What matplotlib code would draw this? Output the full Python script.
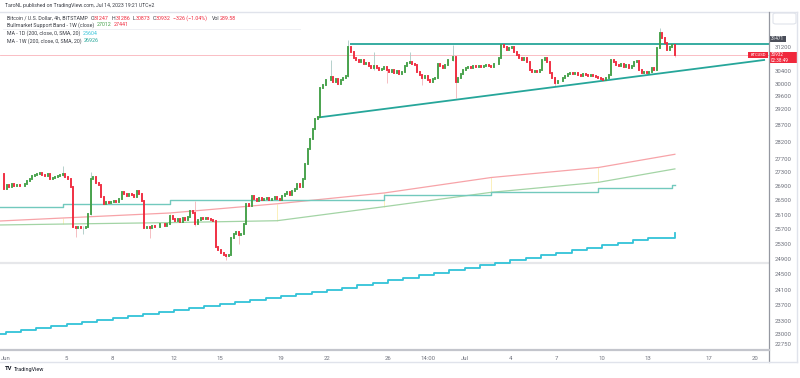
import numpy as np
import pandas as pd
import matplotlib
matplotlib.use('Agg')
import matplotlib.pyplot as plt
import matplotlib.dates as mdates
from matplotlib.lines import Line2D
from matplotlib.patches import Rectangle, FancyBboxPatch

plt.rcParams['font.family'] = ['Roboto', 'DejaVu Sans']

# ---------------- data ----------------
# BTCUSD 4h candles (local time UTC+2), first bar May 31 22:00
candle_start = '2023-05-31 22:00'
first_open = 27250
closes = [
    26820,
    26940, 26880, 26970, 26910, 26940, 26910,   # Jun 1
    26910, 26970, 27050, 27110, 27190, 27220,   # Jun 2
    27250, 27280, 27220, 27190, 27250, 27110,   # Jun 3
    27140, 27170, 27190, 27220, 27250, 27170,   # Jun 4
    27110, 26880, 25770, 25740, 25770, 25740,   # Jun 5
    25740, 25770, 26130, 27110, 27170, 26990,   # Jun 6
    26940, 26600, 26400, 26460, 26430, 26460,   # Jun 7
    26490, 26460, 26540, 26740, 26680, 26630,   # Jun 8
    26680, 26660, 26600, 26770, 26680, 26490,   # Jun 9
    25740, 25770, 25740, 25800, 25770, 25770,   # Jun 10
    25830, 25850, 25800, 25850, 26070, 25990,   # Jun 11
    25930, 25990, 25910, 26020, 25960, 26040,   # Jun 12
    26210, 26150, 25830, 25960, 26020, 25990,   # Jun 13
    26020, 25990, 25960, 25930, 25230, 25130,   # Jun 14
    25050, 25000, 24970, 25000, 25450, 25560,   # Jun 15
    25610, 25530, 25580, 25830, 26400, 26350,   # Jun 16
    26630, 26540, 26490, 26570, 26520, 26540,   # Jun 17
    26570, 26520, 26540, 26600, 26540, 26520,   # Jun 18
    26630, 26680, 26740, 26660, 26770, 26820,   # Jun 19
    26970, 26880, 27110, 27540, 27980, 28280,   # Jun 20
    28580, 28880, 28940, 29870, 29960, 30120,   # Jun 21
    30120, 30220, 30060, 30150, 29990, 30120,   # Jun 22
    30180, 30250, 31190, 31030, 30830, 30760,   # Jun 23
    30700, 30760, 30630, 30670, 30570, 30500,   # Jun 24
    30570, 30500, 30440, 30470, 30540, 30440,   # Jun 25
    30380, 30440, 30340, 30410, 30310, 30380,   # Jun 26
    30570, 30670, 30700, 30630, 30600, 30380,   # Jun 27
    30280, 30180, 30250, 30120, 30060, 30150,   # Jun 28
    30180, 30630, 30570, 30500, 30600, 30760,   # Jun 29
    30760, 30860, 30060, 30180, 30310, 30440,   # Jun 30
    30500, 30540, 30500, 30570, 30540, 30570,   # Jul 1
    30540, 30570, 30600, 30570, 30540, 30630,   # Jul 2
    30630, 30830, 31260, 31190, 31090, 31160,   # Jul 3
    31190, 31030, 30930, 30830, 30760, 30830,   # Jul 4
    30700, 30440, 30380, 30410, 30380, 30440,   # Jul 5
    30760, 30830, 30700, 30340, 30180, 30030,   # Jul 6
    30090, 30090, 30180, 30250, 30310, 30340,   # Jul 7
    30310, 30340, 30280, 30250, 30310, 30280,   # Jul 8
    30250, 30280, 30250, 30220, 30180, 30150,   # Jul 9
    30120, 30180, 30280, 30760, 30700, 30600,   # Jul 10
    30570, 30630, 30540, 30600, 30500, 30570,   # Jul 11
    30700, 30730, 30440, 30340, 30380, 30340,   # Jul 12
    30380, 30500, 30440, 31160, 31650, 31500,   # Jul 13
    31320, 31090, 31190, 31247, 30932,          # Jul 14
]

# visible wicks (the rest of the wicks are hidden in the bodies)
wick_times = ['2023-06-04 18:00', '2023-06-05 14:00', '2023-06-06 02:00', '2023-06-06 14:00',
              '2023-06-10 10:00', '2023-06-13 10:00', '2023-06-15 10:00', '2023-06-16 06:00',
              '2023-06-22 06:00', '2023-06-23 10:00', '2023-06-25 02:00', '2023-06-25 22:00',
              '2023-06-27 10:00', '2023-06-28 06:00', '2023-06-30 06:00', '2023-06-30 10:00',
              '2023-07-06 22:00', '2023-07-13 18:00', '2023-07-14 18:00']
wick_highs = [27480, 25800, 25780, 27310, 25800, 26490, 25020, 25600, 30770, 31420,
              31030, 30460, 31030, 30300, 31260, 30870, 30200, 31810, 31286]
wick_lows = [27200, 25500, 25560, 26100, 25450, 25800, 24860, 25300, 30100, 30200,
             30450, 30030, 30650, 29960, 30740, 29550, 29930, 31150, 30873]

# Bullmarket Support Band - 1W: SMA 20 (red) and EMA 21 (green), weekly vertices
band_times = ['2023-05-31 15:00', '2023-06-04 18:00', '2023-06-11 18:00', '2023-06-18 18:00',
              '2023-06-25 18:00', '2023-07-02 18:00', '2023-07-09 18:00', '2023-07-14 18:00']
sma20w_vals = [25924, 26007, 26146, 26403, 26708, 27151, 27441, 27829]
ema21w_vals = [25815, 25840, 25880, 25932, 26322, 26727, 27012, 27400]

# MA - 1W (200) weekly values
ma1w_times = ['2023-05-31 15:00', '2023-06-04 18:00', '2023-06-11 18:00', '2023-06-18 18:00',
              '2023-06-25 18:00', '2023-07-02 18:00', '2023-07-09 18:00', '2023-07-14 14:00',
              '2023-07-14 18:00']
ma1w_vals = [26310, 26400, 26500, 26520, 26650, 26727, 26841, 26926, 26926]

# MA - 1D (200) daily values, May 31 .. Jul 14
ma1d_start = '2023-05-31'
ma1d_vals = [23000, 23040, 23090, 23140, 23190, 23240, 23290, 23340, 23390, 23440,
             23490, 23540, 23580, 23640, 23690, 23740, 23790, 23840, 23890, 23940,
             23990, 24040, 24090, 24140, 24220, 24270, 24350, 24400, 24480, 24530,
             24610, 24660, 24740, 24790, 24870, 24930, 25010, 25060, 25140, 25190,
             25270, 25330, 25410, 25460, 25604]

# drawings
trend_times = ['2023-06-21 10:00', '2023-07-20 14:00']
trend_prices = [28938, 30763]
resist_start = '2023-06-23 12:00'
resist_price = 31290
last_price = 30932
resist_label = 31471

ytick_vals = [31200, 30400, 30000, 29600, 29200, 28700, 28200, 27700, 27300, 26900, 26500,
              26100, 25700, 25300, 24900, 24500, 24100, 23700, 23300, 23000, 22750]
xtick_times = ['2023-06-01', '2023-06-05', '2023-06-08', '2023-06-12', '2023-06-15',
               '2023-06-19', '2023-06-22', '2023-06-26', '2023-06-28 14:00', '2023-07-01',
               '2023-07-04', '2023-07-07', '2023-07-10', '2023-07-13', '2023-07-17', '2023-07-20']
xtick_labels = ['Jun', '5', '8', '12', '15', '19', '22', '26', '14:00', 'Jul',
                '4', '7', '10', '13', '17', '20']

# ---------------- styling ----------------
GREEN = '#43a047'
RED = '#f0283c'
TEAL = '#26a69a'
CYAN = '#33c3d8'
AXIS_TXT = '#70737e'
DARK = '#3a3d45'
W, H = 800, 378


def fx(px):
    return px / W


def fy(py):
    return 1 - py / H


def to_num(ts):
    return np.array([mdates.date2num(pd.Timestamp(t)) for t in ts])


fig = plt.figure(figsize=(W / 100, H / 100), dpi=100)
fig.patch.set_facecolor('white')
ax = fig.add_axes([0, fy(350), fx(769), (350 - 12) / H])
ax.set_facecolor('white')
ax.set_yscale('log')
ax.set_ylim(22603, 32372)
t0 = mdates.date2num(pd.Timestamp('2023-06-01'))
ax.set_xlim(t0 - 5.5 / 15.3, t0 + 763.5 / 15.3)
for s in ax.spines.values():
    s.set_visible(False)

# pane separator (under the series)
sep_price = ax.transData.inverted().transform((0, H - 263))[1]
ax.axhline(sep_price, color='#e6e7ea', lw=1.6, zorder=0.5)

# indicator lines
bt = to_num(band_times)
ax.plot(bt, sma20w_vals, color='#f7a3a8', lw=0.9, zorder=2)
ax.plot(bt, ema21w_vals, color='#a3d4a5', lw=0.9, zorder=2)
ax.vlines(bt[1:-1], ema21w_vals[1:-1], sma20w_vals[1:-1], color='#fbeeb0', lw=0.6, zorder=1)
ax.plot(to_num(ma1w_times), ma1w_vals, color='#72c9bd', lw=1.0, drawstyle='steps-post', zorder=2)
ma1d_t = list(pd.date_range(ma1d_start, periods=len(ma1d_vals) - 1, freq='D')) + [pd.Timestamp('2023-07-14 18:00')]
ma1d_t[0] = pd.Timestamp('2023-05-31 15:00')
ax.plot(mdates.date2num(ma1d_t), ma1d_vals, color=CYAN, lw=1.3, drawstyle='steps-post', zorder=2)

# price line
ax.axhline(last_price, color=RED, lw=0.6, alpha=0.35, zorder=1)

# drawings
ax.plot(to_num(trend_times), trend_prices, color=TEAL, lw=1.3, zorder=4)
ax.hlines(resist_price, to_num([resist_start])[0], ax.get_xlim()[1], color=TEAL, lw=1.3, zorder=4)

# candles
times = pd.date_range(candle_start, periods=len(closes), freq='4h')
xs = mdates.date2num(times)
c = np.array(closes, dtype=float)
o = np.r_[first_open, c[:-1]]
up = c >= o
cols = np.where(up, GREEN, RED)
wx = to_num(wick_times)
widx = np.searchsorted(xs, wx - 1e-6)
wcols = ['#a9c9c4' if up[i] else '#f4b3b8' for i in widx]
ax.vlines(wx, wick_lows, wick_highs, colors=wcols, lw=0.6, zorder=3)
ax.vlines(xs, o, c, colors=cols, lw=1.35, zorder=5, capstyle='projecting')

# axes ticks
ax.minorticks_off()
ax.yaxis.tick_right()
ax.set_yticks(ytick_vals)
ax.set_yticklabels([str(v) for v in ytick_vals])
ax.set_xticks(to_num(xtick_times))
ax.set_xticklabels(xtick_labels)
ax.tick_params(axis='y', which='both', length=0, pad=4, labelsize=4.3, labelcolor=AXIS_TXT)
ax.tick_params(axis='x', which='both', length=0, pad=4.5, labelsize=4.3, labelcolor=AXIS_TXT)

# frame lines
frame = [((0, 797), (12, 12), '#e0e3eb', 1.0), ((769, 769), (12, 362), '#9598a1', 0.9),
         ((0, 769), (350, 350), '#c3c5cc', 1.6), ((0, 797), (362, 362), '#e0e3eb', 1.0),
         ((797, 797), (12, 362), '#e0e3eb', 1.0)]
for xx, yy, cc, lw in frame:
    fig.add_artist(Line2D([fx(xx[0]), fx(xx[1])], [fy(yy[0]), fy(yy[1])], color=cc, lw=lw,
                          transform=fig.transFigure))

# price scale boxes
fig.add_artist(FancyBboxPatch((fx(773), fy(24)), fx(23), 11 / H, boxstyle='round,pad=0,rounding_size=0.004',
                              fc='white', ec='#e0e3eb', lw=0.8, transform=fig.transFigure))


def price_to_fy(p):
    return ax.transData.transform((ax.get_xlim()[0], p))[1] / H


yr = price_to_fy(resist_label)
fig.add_artist(Rectangle((fx(769.5), yr - 3 / H), fx(16), 6 / H, fc='#4a4e59', ec='none',
                         transform=fig.transFigure))
fig.text(fx(777.5), yr, str(resist_label), color='white', fontsize=3.3, ha='center', va='center')

yl = price_to_fy(last_price)
fig.add_artist(Rectangle((fx(769.5), yl - 8.5 / H), fx(27), 11.5 / H, fc=RED, ec='none',
                         transform=fig.transFigure))
fig.text(fx(771), yl, str(last_price), color='white', fontsize=3.3, ha='left', va='center')
fig.text(fx(771), yl - 5.5 / H, '02:38:49', color='white', fontsize=3.3, ha='left', va='center')
fig.add_artist(Rectangle((fx(748), yl - 3 / H), fx(20), 6 / H, fc=RED, ec='none',
                         transform=fig.transFigure))
fig.text(fx(758), yl, 'BTCUSD', color='white', fontsize=3.0, ha='center', va='center')

# header and legend
r = fig.canvas.get_renderer()


def fit(txt, width, weight='normal'):
    t = fig.text(0, 0, txt, fontsize=10, weight=weight)
    w = t.get_window_extent(r).width
    t.remove()
    return 10 * width / w


def pieces(x, y, items, size):
    for txt, col, gap in items:
        t = fig.text(fx(x), fy(y), txt, color=col, fontsize=size, ha='left', va='center')
        x += t.get_window_extent(r).width + gap


hs = fit('TaroNL published on TradingView.com, Jul 14, 2023 19:21 UTC+2', 150)
fig.text(fx(5), fy(6), 'TaroNL published on TradingView.com, Jul 14, 2023 19:21 UTC+2',
         color=DARK, fontsize=hs, ha='left', va='center')
ls = fit('Bitcoin / U.S. Dollar, 4h, BITSTAMP', 81)
pieces(7, 18.3, [('Bitcoin / U.S. Dollar, 4h, BITSTAMP', DARK, 3), ('O', DARK, 0), ('31247', RED, 2.5),
                 ('H', DARK, 0), ('31286', RED, 2.5), ('L', DARK, 0), ('30873', RED, 2.5),
                 ('C', DARK, 0), ('30932', RED, 2.5), ('\u2212326 (\u22121.04%)', RED, 5),
                 ('Vol', DARK, 0), ('289.58', RED, 0)], ls)
pieces(7, 25, [('Bullmarket Support Band - 1W (close)', DARK, 2.5), ('27012', GREEN, 2.5),
               ('27441', RED, 0)], ls)
fig.add_artist(Line2D([fx(3), fx(300)], [fy(29), fy(29)], color='#eceef2', lw=0.6,
                      transform=fig.transFigure))
pieces(7, 33.3, [('MA - 1D (200, close, 0, SMA, 20)', DARK, 2.5), ('25604', CYAN, 0)], ls)
pieces(7, 40.7, [('MA - 1W (200, close, 0, SMA, 20)', DARK, 2.5), ('26926', TEAL, 0)], ls)

# TradingView logo text
fig.text(fx(5), fy(369), 'TV', color='#131722', fontsize=4.2, weight='bold', ha='left', va='center')
fig.text(fx(14), fy(369), 'TradingView', color='#131722', fontsize=4.0, ha='left', va='center')

fig.savefig('out.png', dpi=100, facecolor='white')
